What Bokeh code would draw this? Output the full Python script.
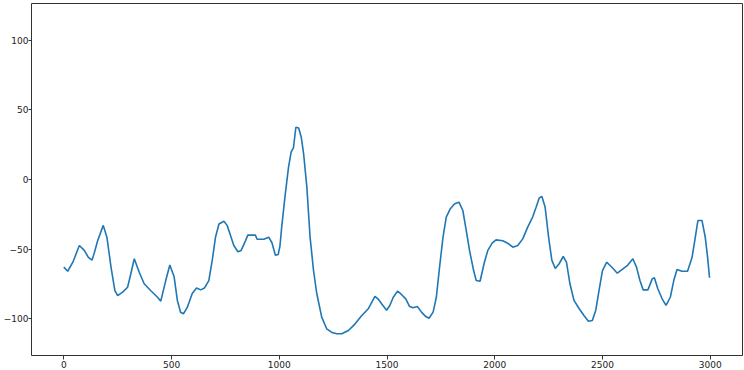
from bokeh.plotting import figure
from bokeh.embed import file_html
from bokeh.resources import INLINE
from bokeh.models import Range1d, FixedTicker

xs = [0, 18, 42, 72, 95, 114, 131, 141, 157, 183, 200, 219, 237, 250, 273, 296, 311, 327,
      350, 373, 404, 435, 450, 473, 492, 512, 527, 542, 555, 573, 596, 616, 635, 653, 673,
      689, 704, 720, 743, 758, 773, 789, 808, 823, 838, 854, 874, 889, 897, 928, 951, 966,
      982, 995, 1003, 1012, 1028, 1043, 1055, 1066, 1077, 1090, 1102, 1113, 1128, 1143,
      1159, 1174, 1197, 1220, 1244, 1267, 1290, 1321, 1351, 1382, 1413, 1444, 1459, 1475,
      1498, 1513, 1529, 1549, 1567, 1587, 1605, 1621, 1641, 1660, 1680, 1695, 1714, 1729,
      1744, 1760, 1775, 1794, 1814, 1834, 1852, 1868, 1883, 1902, 1914, 1932, 1952, 1968,
      1988, 2006, 2037, 2060, 2084, 2107, 2130, 2153, 2176, 2192, 2207, 2219, 2234, 2250,
      2265, 2281, 2299, 2318, 2333, 2349, 2368, 2392, 2415, 2435, 2453, 2469, 2484, 2500,
      2520, 2546, 2569, 2592, 2615, 2641, 2658, 2674, 2689, 2711, 2731, 2741, 2757, 2777,
      2795, 2815, 2831, 2846, 2869, 2895, 2916, 2931, 2943, 2962, 2977, 2988, 2997]
ys = [-63, -66, -59.5, -47.5, -51, -56, -58, -53, -44, -33, -41.5, -63, -80, -83.5, -81,
      -77.5, -67.8, -57, -66.7, -75, -80, -84.7, -87.5, -72.7, -61.5, -70, -87, -95.5,
      -96.6, -92, -82, -78, -79.4, -78, -72.7, -58, -41.5, -32, -30, -33, -40, -47.5, -52,
      -51, -46, -40, -40, -40, -43, -43, -41.5, -45.5, -54.5, -54, -48, -33, -10.3, 8.9,
      19.7, 23, 37.6, 37, 30.4, 18.5, -5.5, -41.5, -65.5, -82, -99, -107.4, -110, -111,
      -111, -108.6, -104, -98, -93, -84, -86, -89.4, -94, -90.6, -84.7, -80.3, -82.7,
      -85.9, -91.4, -92.3, -91.4, -95.4, -98.6, -99.8, -95.4, -84.7, -63, -41.5, -27, -21,
      -17.5, -16.3, -22.3, -36.7, -51, -65.5, -72.7, -73.2, -59.5, -51, -45.8, -43.4, -44,
      -45.8, -48.7, -47.5, -42.7, -34.3, -27, -20, -13.2, -12.2, -20, -41.5, -58, -64,
      -60.6, -55.4, -59.5, -75, -87, -93, -98, -102, -101.4, -94, -80, -65.5, -59.5, -63.5,
      -67.4, -64.7, -62, -57, -63, -72.7, -79.4, -79.4, -71.5, -70.7, -78.6, -85.8, -90.6,
      -84.7, -72.7, -64.7, -66, -66, -56, -41.5, -29.5, -29.5, -41.5, -56, -70.7]

x_ticks = [0, 500, 1000, 1500, 2000, 2500, 3000]
y_ticks = [-100, -50, 0, 50, 100]

p = figure(width=744, height=370, output_backend="svg", toolbar_location=None,
           x_range=Range1d(-150, 3150), y_range=Range1d(-126.6, 126.6),
           min_border_left=28, min_border_right=2, min_border_top=3, min_border_bottom=14)

p.line(xs, ys, line_color="#1f77b4", line_width=1.6)

p.grid.visible = False
p.outline_line_color = "#333333"
p.outline_line_width = 1
p.background_fill_color = "white"
p.border_fill_color = "white"

for ax, ticks in ((p.xaxis[0], x_ticks), (p.yaxis[0], y_ticks)):
    ax.ticker = FixedTicker(ticks=ticks)
    ax.axis_line_color = None
    ax.major_tick_line_color = "#333333"
    ax.major_tick_in = 0
    ax.major_tick_out = 4
    ax.minor_tick_line_color = None
    ax.major_label_text_font = "DejaVu Sans"
    ax.major_label_text_font_size = "9px"
    ax.major_label_text_color = "#222222"

p.xaxis[0].major_label_standoff = 1
p.yaxis[0].major_label_standoff = 0
p.yaxis[0].major_tick_out = 3

open("out.html", "w").write(file_html(p, INLINE))
